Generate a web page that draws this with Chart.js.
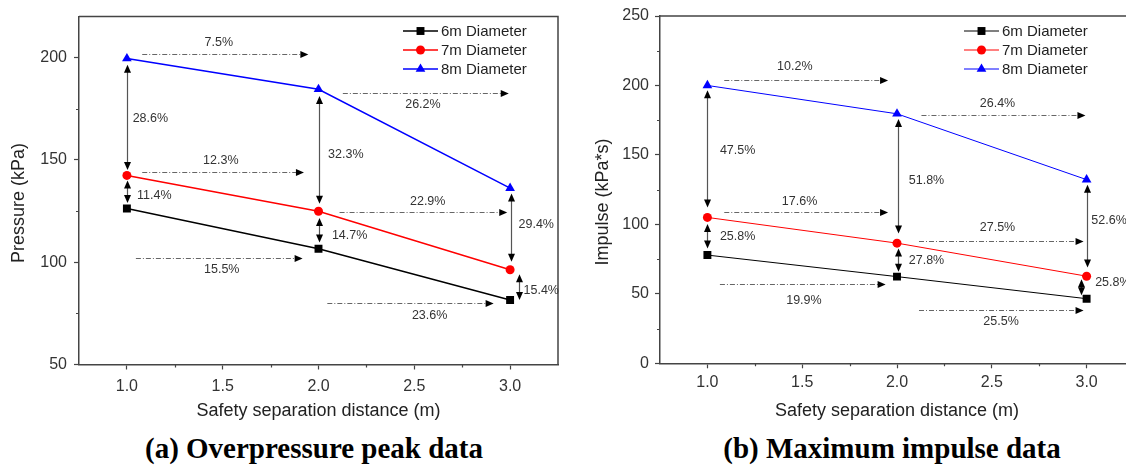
<!DOCTYPE html>
<html lang="en">
<head>
<meta charset="UTF-8" />
<title>Overpressure peak and maximum impulse data</title>
<script src="https://cdn.jsdelivr.net/npm/chart.js@4.4.1/dist/chart.umd.min.js"></script>
<style>
  body { margin: 0; background: #fff; overflow: hidden; width: 1126px; height: 465px; position: relative; }
  canvas { position: absolute; top: 0; }
  #pressure { left: 0; }
  #impulse { left: 565px; }
  .caption {
    position: absolute; top: 434px; width: 400px; text-align: center;
    font: bold 29px "Liberation Serif", "Times New Roman", serif; line-height: 29px;
    color: #000; white-space: nowrap;
  }
</style>
</head>
<body>

<canvas id="pressure" width="565" height="430"></canvas>
<canvas id="impulse" width="576" height="430"></canvas>
<div class="caption" style="left:114px">(a) Overpressure peak data</div>
<div class="caption" style="left:692px">(b) Maximum impulse data</div>

<script>
// ---- data ----
const distances = [1.0, 2.0, 3.0];
const seriesNames = ['6m Diameter', '7m Diameter', '8m Diameter'];

const pressure6 = [126.2, 106.6, 81.5];
const pressure7 = [142.4, 124.9, 96.3];
const pressure8 = [199.5, 184.5, 136.2];

const impulse6 = [77.9, 62.4, 46.5];
const impulse7 = [105.0, 86.5, 62.7];
const impulse8 = [200.0, 179.6, 132.2];

const xTicks = [1.0, 1.5, 2.0, 2.5, 3.0];
const xMinor = [1.25, 1.75, 2.25, 2.75];
const pressureTicks = [50, 100, 150, 200];
const pressureMinor = [75, 125, 175];
const impulseTicks = [0, 50, 100, 150, 200, 250];
const impulseMinor = [25, 75, 125, 175, 225];

// percentage annotations, in data units
// horizontal: [xFrom, xTo, y, label, labelX (centre), labelY]
const pressureH = [
  [1.08, 1.947, 201.8, '7.5%', 1.48, 207.3],
  [2.127, 2.993, 182.5, '26.2%', 2.545, 177.2],
  [1.08, 1.924, 144.3, '12.3%', 1.49, 149.7],
  [2.11, 2.985, 124.5, '22.9%', 2.57, 129.5],
  [1.047, 1.917, 101.8, '15.5%', 1.495, 96.4],
  [2.046, 2.914, 80.0, '23.6%', 2.58, 73.7]
];
// vertical: [x, yTop, yBottom, label, labelX (left), labelY]
const pressureV = [
  [1.0, 196.5, 145.0, '28.6%', 1.03, 170.3],
  [1.0, 139.9, 128.9, '11.4%', 1.053, 132.4],
  [2.0, 181.2, 128.6, '32.3%', 2.05, 152.7],
  [2.0, 121.6, 109.6, '14.7%', 2.07, 112.9],
  [3.004, 133.6, 100.2, '29.4%', 3.044, 118.3],
  [3.049, 94.1, 81.5, '15.4%', 3.07, 86.3]
];
const impulseH = [
  [1.089, 1.953, 203.7, '10.2%', 1.461, 213.8],
  [2.129, 2.994, 178.6, '26.4%', 2.53, 186.7],
  [1.089, 1.953, 108.6, '17.6%', 1.486, 116.7],
  [2.116, 2.984, 88.2, '27.5%', 2.53, 97.5],
  [1.066, 1.94, 56.8, '19.9%', 1.509, 45.0],
  [2.116, 2.984, 38.3, '25.5%', 2.549, 29.9]
];
const impulseV = [
  [1.0, 196.5, 112.2, '47.5%', 1.066, 152.9],
  [1.0, 100.2, 82.7, '25.8%', 1.066, 91.0],
  [2.005, 175.9, 93.5, '51.8%', 2.062, 131.8],
  [2.005, 82.7, 65.9, '27.8%', 2.062, 74.3],
  [3.004, 128.5, 69.0, '52.6%', 3.025, 102.5],
  [2.972, 60.5, 49.0, '25.8%', 3.045, 58.0]
];

const FONT = "'Liberation Sans', Arial, sans-serif";
const AXIS = '#444';
const pointStyles = ['rect', 'circle', 'triangle'];
const pointSizes = [5.6, 4.5, 5.6];
const colors = ['#000000', '#ff0000', '#0000ff'];

function marker(ctx, style, x, y, r, color) {
  ctx.fillStyle = color;
  ctx.beginPath();
  if (style === 'rect') {
    const s = r * Math.SQRT1_2;
    ctx.rect(x - s, y - s, 2 * s, 2 * s);
  } else if (style === 'triangle') {
    ctx.moveTo(x, y - r);
    ctx.lineTo(x + r * 0.866, y + r * 0.5);
    ctx.lineTo(x - r * 0.866, y + r * 0.5);
    ctx.closePath();
  } else {
    ctx.arc(x, y, r, 0, Math.PI * 2);
  }
  ctx.fill();
}

function head(ctx, x, y, dir) {
  // filled arrow head with its tip at (x, y)
  const len = 8, half = 3.5;
  ctx.fillStyle = '#000';
  ctx.beginPath();
  if (dir === 'right') { ctx.moveTo(x, y); ctx.lineTo(x - len, y - half); ctx.lineTo(x - len, y + half); }
  if (dir === 'up') { ctx.moveTo(x, y); ctx.lineTo(x - half, y + len); ctx.lineTo(x + half, y + len); }
  if (dir === 'down') { ctx.moveTo(x, y); ctx.lineTo(x - half, y - len); ctx.lineTo(x + half, y - len); }
  ctx.closePath();
  ctx.fill();
}

// frame, minor ticks, arrows, legend and y title
function decor(cfg) {
  return {
    id: 'decor',
    afterDraw(chart) {
      const ctx = chart.ctx;
      const a = chart.chartArea;
      const xs = chart.scales.x, ys = chart.scales.y;
      ctx.save();

      // top and right frame
      ctx.strokeStyle = AXIS;
      ctx.lineWidth = 1.5;
      ctx.beginPath();
      ctx.moveTo(a.left, a.top); ctx.lineTo(a.right, a.top); ctx.lineTo(a.right, a.bottom);
      ctx.stroke();

      // minor ticks
      ctx.lineWidth = 1.2;
      ctx.beginPath();
      xMinor.forEach(v => {
        const px = Math.round(xs.getPixelForValue(v)) + 0.5;
        ctx.moveTo(px, a.bottom); ctx.lineTo(px, a.bottom + 3);
      });
      cfg.minorY.forEach(v => {
        const py = Math.round(ys.getPixelForValue(v)) + 0.5;
        ctx.moveTo(a.left, py); ctx.lineTo(a.left - 3, py);
      });
      ctx.stroke();

      // horizontal dash-dot arrows
      ctx.font = '12.5px ' + FONT;
      cfg.h.forEach(([x1, x2, y, label, lx, ly]) => {
        const p1 = xs.getPixelForValue(x1), p2 = xs.getPixelForValue(x2);
        const py = Math.round(ys.getPixelForValue(y)) + 0.5;
        ctx.strokeStyle = '#666';
        ctx.lineWidth = 1;
        ctx.setLineDash([5, 2, 1, 2]);
        ctx.beginPath();
        ctx.moveTo(p1, py); ctx.lineTo(p2 - 7, py);
        ctx.stroke();
        ctx.setLineDash([]);
        head(ctx, p2, py, 'right');
        ctx.fillStyle = '#333';
        ctx.textAlign = 'center';
        ctx.textBaseline = 'middle';
        ctx.fillText(label, xs.getPixelForValue(lx), ys.getPixelForValue(ly));
      });

      // vertical double arrows
      cfg.v.forEach(([x, y1, y2, label, lx, ly]) => {
        const px = Math.round(xs.getPixelForValue(x)) + 0.5;
        const t = ys.getPixelForValue(y1), b = ys.getPixelForValue(y2);
        ctx.strokeStyle = '#555';
        ctx.lineWidth = 1.2;
        ctx.beginPath();
        ctx.moveTo(px, t + 6); ctx.lineTo(px, b - 6);
        ctx.stroke();
        head(ctx, px, t, 'up');
        head(ctx, px, b, 'down');
        ctx.fillStyle = '#333';
        ctx.textAlign = 'left';
        ctx.textBaseline = 'middle';
        ctx.fillText(label, xs.getPixelForValue(lx), ys.getPixelForValue(ly));
      });

      // legend
      ctx.font = '15px ' + FONT;
      chart.data.datasets.forEach((ds, i) => {
        const y = cfg.legendY + i * 19;
        ctx.strokeStyle = ds.borderColor;
        ctx.lineWidth = ds.borderWidth;
        ctx.beginPath();
        ctx.moveTo(cfg.legendX, y); ctx.lineTo(cfg.legendX + 35, y);
        ctx.stroke();
        marker(ctx, ds.pointStyle, cfg.legendX + 17.5, y, ds.pointRadius, ds.borderColor);
        ctx.fillStyle = '#222';
        ctx.textAlign = 'left';
        ctx.textBaseline = 'middle';
        ctx.fillText(ds.label, cfg.legendX + 38, y + 1);
      });

      // y axis title
      ctx.translate(cfg.titleX, cfg.titleY);
      ctx.rotate(-Math.PI / 2);
      ctx.font = '18px ' + FONT;
      ctx.fillStyle = '#222';
      ctx.textAlign = 'center';
      ctx.textBaseline = 'middle';
      ctx.fillText(cfg.title, 0, 0);
      ctx.restore();
    }
  };
}

function makeChart(id, series, lineWidth, yMin, yMax, yTickList, opts) {
  const datasets = series.map((vals, i) => ({
    label: seriesNames[i],
    data: distances.map((d, j) => ({ x: d, y: vals[j] })),
    borderColor: colors[i],
    backgroundColor: colors[i],
    borderWidth: lineWidth,
    pointStyle: pointStyles[i],
    pointRadius: pointSizes[i],
    pointBorderWidth: 0,
    pointBackgroundColor: colors[i],
    tension: 0
  }));
  return new Chart(document.getElementById(id), {
    type: 'line',
    data: { datasets },
    options: {
      responsive: false,
      animation: false,
      devicePixelRatio: 1,
      layout: { padding: { top: opts.top, right: 7, left: 0, bottom: 0 } },
      plugins: { legend: { display: false }, tooltip: { enabled: false } },
      scales: {
        x: {
          type: 'linear', min: 0.75, max: 3.25,
          afterBuildTicks: s => { s.ticks = xTicks.map(v => ({ value: v })); },
          afterFit: s => { s.height = opts.xHeight; },
          border: { color: AXIS, width: 1.5 },
          grid: { drawOnChartArea: false, tickLength: 5, tickColor: AXIS, tickWidth: 1.2 },
          ticks: { color: '#333', font: { size: 16, family: FONT }, padding: opts.xPad, callback: v => v.toFixed(1) },
          title: { display: true, text: 'Safety separation distance (m)', color: '#222',
                   font: { size: 18, family: FONT }, padding: { top: 0, bottom: 8 } }
        },
        y: {
          type: 'linear', min: yMin, max: yMax,
          afterBuildTicks: s => { s.ticks = yTickList.map(v => ({ value: v })); },
          afterFit: s => { s.width = opts.yWidth; },
          border: { color: AXIS, width: 1.5 },
          grid: { drawOnChartArea: false, tickLength: 5, tickColor: AXIS, tickWidth: 1.2 },
          ticks: { color: '#333', font: { size: 16, family: FONT }, padding: opts.yPad }
        }
      }
    },
    plugins: [decor(opts)]
  });
}

makeChart('pressure', [pressure6, pressure7, pressure8], 1.5, 50, 220, pressureTicks, {
  top: 13, xHeight: 65.5, yWidth: 79, xPad: 7, yPad: 7,
  minorY: pressureMinor, h: pressureH, v: pressureV,
  legendX: 403, legendY: 31, title: 'Pressure (kPa)', titleX: 19, titleY: 203
});

makeChart('impulse', [impulse6, impulse7, impulse8], 1, 0, 250, impulseTicks, {
  top: 16, xHeight: 66.7, yWidth: 95, xPad: 5, yPad: 6,
  minorY: impulseMinor, h: impulseH, v: impulseV,
  legendX: 399, legendY: 31, title: 'Impulse (kPa*s)', titleX: 38, titleY: 202
});
</script>
</body>
</html>
